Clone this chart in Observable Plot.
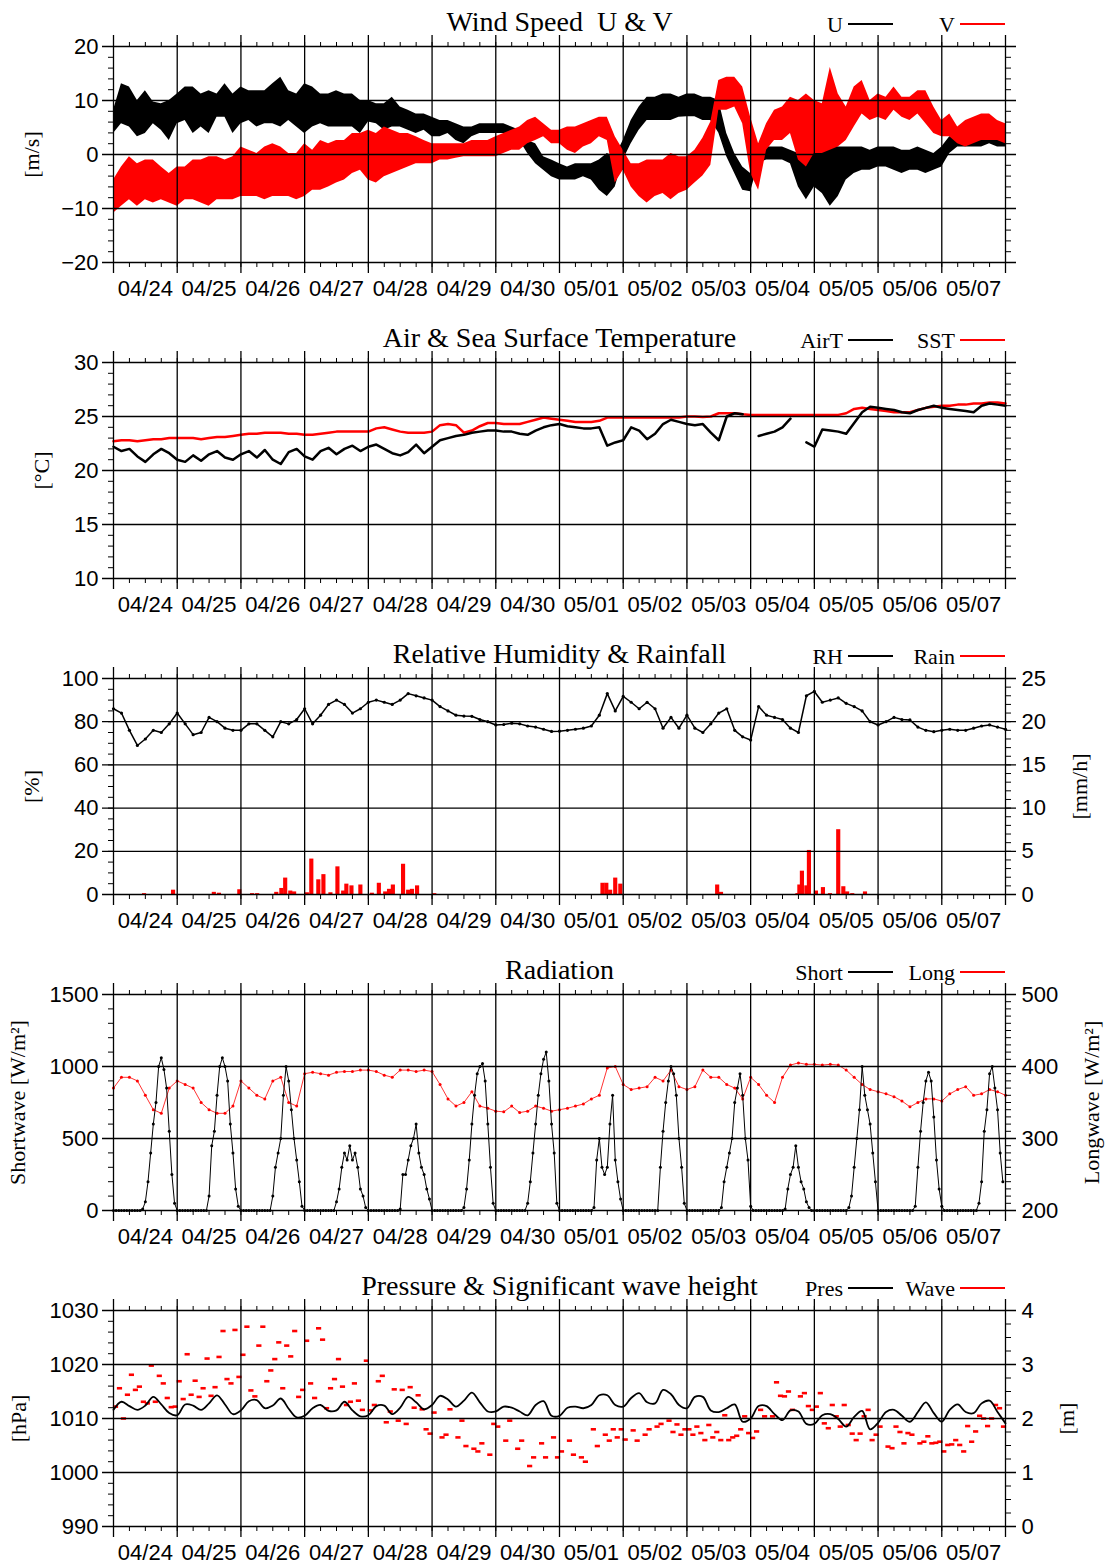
<!DOCTYPE html>
<html>
<head>
<meta charset="utf-8">
<script src="https://cdn.jsdelivr.net/npm/d3@7"></script>
<script src="https://cdn.jsdelivr.net/npm/@observablehq/plot@0.6"></script>
<style>
  body { margin: 0; background: #fff; }
  #charts svg { display: block; }
</style>
</head>
<body>
<div id="charts"></div>
<script>
// Buoy record, 04/24 00:00 – 05/08 00:00; time axis in days from 04/24 00:00.
const dayLabels = ["04/24","04/25","04/26","04/27","04/28","04/29","04/30","05/01","05/02","05/03","05/04","05/05","05/06","05/07"];

// Wind components (m/s), 3-hourly envelope of the 1-min record
const uLow = [
  3.9,5.7,5.1,3.3,3.9,5.7,4.5,2.6,  5.7,6.3,3.9,5.1,3.9,6.9,6.9,3.9,
  5.7,6.3,5.1,5.7,5.7,5.1,6.3,5.1,  3.9,5.1,5.7,5.1,5.1,5.1,5.1,3.9,
  6.0,5.7,4.5,5.1,5.1,4.5,3.9,4.5,  3.3,3.3,3.9,2.6,2.0,3.3,3.9,3.9,
  3.9,3.9,3.3,2.6,0.2,-1.7,-2.9,-4.1,  -4.7,-4.7,-4.7,-4.1,-4.7,-6.6,-7.8,-6.0,
  -1.0,2.0,4.5,6.3,6.3,6.3,6.3,6.9,  7.0,7.0,6.3,6.3,4.0,-0.4,-3.5,-6.6,
  -6.9,-1.7,-1.0,-1.0,-1.0,-1.7,-6.0,-8.4,  -6.0,-7.2,-9.6,-7.8,-4.7,-3.5,-2.9,-2.9,
  -2.3,-2.3,-2.9,-3.5,-2.9,-2.9,-3.5,-2.9,  -2.3,0.2,1.4,1.4,1.4,1.4,2.0,1.4,  1.4];
const uHigh = [
  8.2,13.1,12.5,10.0,11.8,9.7,9.4,10.0,  11.2,12.5,12.5,11.2,11.8,11.2,13.1,11.2,
  12.5,11.8,11.8,11.8,13.1,14.3,11.8,11.2,  13.1,12.5,11.2,11.2,11.8,11.2,11.2,10.0,
  10.0,9.4,9.4,10.6,8.8,8.2,7.5,7.5,  6.9,6.3,6.3,5.7,5.1,5.1,5.7,5.7,
  5.7,5.7,5.1,4.5,2.6,2.0,-0.4,-1.0,  -1.7,-2.3,-1.7,-1.7,-1.7,-1.0,0.2,-0.4,
  2.6,6.3,8.8,10.6,10.6,11.2,11.2,10.6,  11.2,11.2,10.6,10.6,10.0,3.9,0.2,-2.3,
  -3.5,2.0,1.4,1.4,1.4,0.8,0.2,1.4,  2.0,1.4,2.0,1.4,1.4,1.4,1.4,0.8,
  1.4,1.4,1.4,0.8,0.8,1.4,0.8,0.2,  1.4,3.3,3.3,2.6,3.3,3.9,3.9,3.3,  3.3];
const vLow = [
  -10.9,-9.6,-8.4,-9.6,-8.4,-9.0,-8.4,-9.0,  -9.6,-8.4,-8.4,-9.0,-9.6,-8.4,-8.4,-8.4,
  -7.8,-7.8,-7.8,-8.4,-7.8,-7.8,-7.8,-8.4,  -7.8,-6.6,-6.6,-6.0,-5.3,-4.7,-3.5,-2.9,
  -4.7,-5.3,-4.1,-3.5,-2.9,-2.3,-1.7,-1.7,  -1.7,-1.0,-1.0,-0.7,-0.4,-0.4,-0.4,-0.4,
  -0.4,0.2,0.8,0.8,2.0,2.6,3.3,2.0,  2.0,0.8,0.2,1.4,2.0,3.3,2.6,-5.3,
  -2.9,-6.0,-7.8,-9.0,-7.8,-7.2,-8.4,-7.2,  -6.6,-5.3,-4.0,-2.0,8.2,8.2,8.8,5.7,
  -3.5,-6.6,0.8,2.6,2.6,3.9,-1.0,-2.3,  0.2,0.2,0.8,1.4,2.6,5.1,7.5,6.3,
  6.9,6.3,8.2,6.9,6.3,7.5,5.7,3.9,  3.3,3.3,2.0,1.4,2.0,2.6,2.6,2.6,  2.0];
const vHigh = [
  -4.7,-2.3,-0.4,-1.7,-1.0,-1.0,-2.3,-3.5,  -2.3,-2.3,-1.0,-1.0,-0.4,-0.4,-1.0,-0.4,
  1.4,0.8,0.2,1.4,2.0,1.4,0.2,0.2,  2.0,0.8,2.6,2.0,2.6,2.6,3.9,3.9,
  4.5,3.9,5.1,4.5,3.9,3.9,3.3,2.6,  2.0,2.0,2.0,2.0,2.0,2.6,2.6,2.6,
  3.3,3.9,4.5,5.1,6.3,6.9,5.7,4.5,  4.5,5.1,5.1,5.7,6.3,6.9,6.9,3.3,
  0.8,-1.7,-1.7,-1.0,-1.0,-1.0,0.2,-0.4,  -0.4,0.8,3.0,6.0,13.7,14.3,14.3,12.5,
  6.9,2.0,5.7,8.2,8.8,10.6,10.0,11.2,  10.0,9.4,16.1,11.2,8.8,12.5,13.7,10.0,
  11.2,10.6,12.5,10.6,10.6,11.8,11.8,8.8,  6.3,7.5,5.1,6.3,6.9,7.5,7.5,6.3,  5.7];

// Air and sea surface temperature (°C), 3-hourly
const airT = [
  22.2,21.8,22.0,21.3,20.8,21.5,22.0,21.6,  21.0,20.8,21.4,20.9,21.5,21.8,21.2,21.0,
  21.5,21.8,21.2,21.9,21.0,20.6,21.7,22.0,  21.3,21.0,21.8,22.1,21.5,22.0,22.3,21.8,
  22.2,22.4,22.0,21.6,21.4,21.7,22.4,21.6,  22.2,22.8,23.0,23.2,23.3,23.5,23.6,23.7,
  23.7,23.6,23.6,23.4,23.3,23.7,24.0,24.2,  24.3,24.1,24.0,23.9,23.9,24.0,22.3,22.6,
  22.8,24.0,23.7,22.9,23.4,24.3,24.7,24.5,  24.3,24.2,24.3,23.5,22.8,25.0,25.3,25.2,
  null,23.2,23.4,23.6,24.0,24.8,null,22.6,  22.2,23.8,23.7,23.6,23.4,24.4,25.4,25.9,
  25.8,25.7,25.6,25.4,25.3,25.6,25.8,26.0,  25.8,25.7,25.6,25.5,25.4,26.0,26.2,26.1,  26.0];
const sst = [
  22.7,22.8,22.8,22.7,22.8,22.9,22.9,23.0,  23.0,23.0,23.0,22.9,23.0,23.1,23.1,23.2,
  23.3,23.4,23.4,23.5,23.5,23.5,23.4,23.4,  23.3,23.3,23.4,23.5,23.6,23.6,23.6,23.6,
  23.6,23.9,24.0,23.8,23.6,23.5,23.5,23.5,  23.6,24.2,24.3,24.2,23.5,23.7,24.1,24.4,
  24.4,24.3,24.3,24.3,24.5,24.7,24.9,24.8,  24.7,24.6,24.5,24.5,24.5,24.6,24.9,24.9,
  24.9,24.9,24.9,24.9,24.9,24.9,24.9,24.9,  25.0,25.0,24.95,25.0,25.3,25.3,25.3,25.2,
  25.15,25.15,25.15,25.15,25.15,25.15,25.15,25.15,  25.15,25.15,25.15,25.15,25.3,25.7,25.8,25.7,
  25.6,25.5,25.4,25.4,25.4,25.6,25.8,25.9,  26.0,26.0,26.1,26.1,26.2,26.2,26.3,26.3,  26.2];

// Relative humidity (%), 3-hourly
const rh = [
  86,84,76,69,72,76,75,79,  84,79,74,75,82,80,77,76,
  76,79,79,76,73,80,79,81,  86,79,83,88,90,88,84,86,
  89,90,89,88,90,93,92,91,  90,87,85,83,82.6,82.5,81,80,
  78.5,78.7,79.3,79,78,77.5,76.5,75.5,  75.6,76,76.5,77,78,83,93,85,
  91.7,89,86,89,86,77,82,77,  83,77,75,79,84,86,76,73,
  71.5,87,83,82,81,77,75,92,  94,89,90,91,88.5,87,85,80,
  78.5,80,82,81,80.8,77.5,76,75.4,  76,76.5,76,76,77,78,78.5,77.5,  76.5];

// Rainfall (mm/h): start of each rain interval (days) and its rate
const rainStart = [0.455,0.91,1.55,1.63,1.95,2.15,2.23,2.53,2.61,2.67,2.75,2.81,3.01,3.08,3.19,3.27,3.38,3.49,3.58,3.63,3.71,3.85,
  4.03,4.14,4.24,4.3,4.36,4.52,4.6,4.66,4.74,5.01,7.65,7.71,7.77,7.85,7.93,9.45,9.51,
  10.71,10.74,10.78,10.85,10.89,11.0,11.11,11.22,11.35,11.43,11.49,11.57,11.77];
const rainRate = [0.1,0.5,0.25,0.15,0.55,0.1,0.1,0.25,0.7,1.9,0.4,0.3,0.2,4.1,1.7,2.3,0.2,3.2,0.4,1.2,1.0,1.1,
  0.15,1.3,0.3,0.6,1.1,3.5,0.5,0.6,1.0,0.1,1.3,1.3,0.5,1.9,1.2,1.1,0.25,
  0.1,1.1,2.7,1.0,5.1,0.4,0.8,0.1,7.5,0.9,0.3,0.1,0.3];

// Shortwave (W/m²), hourly, one row per day (hours 00–23)
const shortwave = [
  0,0,0,0,0,0,0,0,0,0,0,10,60,200,400,600,750,1000,1060,980,850,550,250,50,
  0,0,0,0,0,0,0,0,0,0,0,0,100,450,550,800,1000,1060,1000,900,600,400,150,30,
  0,0,0,0,0,0,0,0,0,0,0,0,100,300,400,500,800,1000,900,700,500,350,200,30,
  0,0,0,0,0,0,0,0,0,0,0,0,60,150,300,400,350,450,350,400,300,150,100,20,
  0,0,0,0,0,0,0,0,0,0,0,0,10,250,250,350,450,500,600,400,300,250,150,80,
  0,0,0,0,0,0,0,0,0,0,0,0,20,150,350,600,800,950,1000,1020,900,600,300,50,
  0,0,0,0,0,0,0,0,0,0,0,0,50,200,400,600,800,950,1050,1100,900,600,400,50,
  0,0,0,0,0,0,0,0,0,0,0,0,0,20,350,500,300,250,300,600,800,350,200,80,
  0,0,0,0,0,0,0,0,0,0,0,0,0,0,300,550,750,900,1000,950,800,500,300,50,
  0,0,0,0,0,0,0,0,0,0,0,0,0,20,200,300,400,500,750,850,950,800,500,350,
  30,0,0,0,0,0,0,0,0,0,0,0,0,10,150,250,300,450,300,200,150,60,20,0,
  0,0,0,0,0,0,0,0,0,0,0,0,0,20,100,300,500,700,1000,800,700,600,400,200,
  0,0,0,0,0,0,0,0,0,0,0,0,0,0,30,300,550,750,900,960,900,650,350,150,
  30,0,0,0,0,0,0,0,0,0,0,0,0,0,50,200,550,700,950,1000,850,700,400,200];

// Longwave (W/m²), 3-hourly
const longwave = [
  370,385,385,380,360,340,335,370,  380,375,370,350,340,335,335,345,
  380,370,360,355,380,385,350,345,  390,392,390,388,392,393,393,395,
  395,393,388,385,395,395,393,395,  393,375,355,345,350,365,345,342,
  338,337,345,336,338,345,342,338,  340,342,345,348,355,360,398,400,
  375,368,370,372,385,380,395,372,  368,372,395,385,385,375,370,355,
  385,375,360,350,385,402,405,403,  403,402,403,402,395,385,375,368,
  365,362,358,352,344,350,355,355,  352,362,368,372,360,362,368,365,  360];

// Sea level pressure (hPa), 3-hourly
const pressure = [
  1011.6,1013.1,1012.3,1011.6,1012.4,1014.0,1012.6,1011.0,  1010.6,1012.6,1012.4,1011.6,1012.8,1014.3,1012.6,1010.8,
  1011.5,1013.2,1013.4,1011.9,1012.4,1013.7,1011.8,1010.2,  1010.5,1011.9,1012.5,1011.4,1011.5,1013.1,1011.5,1010.4,
  1010.6,1012.3,1012.4,1010.8,1012.0,1014.0,1013.0,1011.7,  1012.5,1014.2,1013.5,1012.2,1013.3,1014.8,1013.0,1011.3,
  1011.3,1012.2,1012.0,1011.3,1010.6,1012.5,1013.2,1010.5,  1010.5,1012.0,1012.2,1011.9,1012.5,1014.3,1014.3,1012.5,
  1012.2,1013.8,1014.7,1013.0,1012.8,1015.3,1014.5,1012.5,  1011.9,1014.0,1014.0,1011.5,1011.2,1011.9,1012.6,1009.4,
  1010.0,1012.3,1012.3,1010.8,1009.7,1011.5,1011.3,1009.0,  1009.0,1010.6,1010.8,1009.9,1008.5,1010.3,1011.4,1008.0,
  1009.2,1011.2,1011.6,1010.5,1009.4,1011.2,1013.0,1011.0,  1009.4,1011.6,1012.6,1011.2,1011.0,1012.8,1013.3,1011.2,  1009.1];

// Significant wave height (m), 90-minute slots, 16 per day
const waveHeight = [
  2.22,2.56,2.0,2.44,2.81,2.53,2.59,2.31,2.28,2.98,2.31,2.79,2.65,2.38,2.21,2.22,
  2.69,2.36,3.19,2.44,2.70,2.4,2.56,3.11,2.42,2.58,3.14,3.62,2.73,2.65,3.64,2.77,
  3.18,3.70,2.52,2.41,3.35,3.70,2.69,2.89,3.1,3.41,2.56,3.35,3.15,3.62,2.40,2.53,
  3.44,2.65,2.38,3.67,3.46,2.19,2.56,2.73,3.1,2.59,2.25,2.31,2.65,2.33,2.16,3.07,
  2.15,2.25,2.69,2.79,1.93,2.13,2.54,1.96,2.53,1.9,2.58,2.2,2.43,2.17,1.8,1.72,
  2.11,null,1.65,1.7,2.17,null,1.65,1.96,1.49,null,1.44,1.39,1.54,null,1.33,1.9,
  1.85,null,1.59,1.96,null,1.44,1.59,null,1.12,1.28,null,1.54,1.28,null,1.65,1.28,
  1.39,null,1.59,1.33,null,1.28,1.2,null,1.8,1.49,null,1.7,1.59,1.8,1.65,1.8,
  1.61,null,1.78,1.59,null,1.7,1.8,null,1.85,1.9,null,1.96,1.75,1.89,1.7,1.8,
  1.8,1.7,1.85,1.73,1.6,1.88,1.65,1.75,1.6,2.06,1.6,1.65,1.68,1.8,2.04,1.73,
  1.64,1.76,2.16,2.04,null,2.04,2.67,2.42,2.41,2.5,2.16,null,2.41,2.47,2.23,2.16,
  2.22,2.47,1.91,1.82,2.25,2.04,1.85,2.25,1.88,1.72,1.6,1.72,2.04,2.16,1.6,1.7,
  1.85,null,1.48,1.45,1.85,1.75,1.54,1.73,1.7,null,1.54,1.57,1.67,1.54,1.55,1.57,
  1.39,1.51,1.52,1.6,1.51,1.39,1.86,1.57,1.76,2.05,2.0,1.86,2.0,2.25,2.19,1.85];

// ---- tables built from the arrays ----
const sampled = (values, perDay) => values.map((v, i) => ({t: i / perDay, v}));
const wind = uLow.map((_, i) => ({t: i / 8, uLo: uLow[i], uHi: uHigh[i], vLo: vLow[i], vHi: vHigh[i]}));
const airSeries = sampled(airT, 8), sstSeries = sampled(sst, 8), rhSeries = sampled(rh, 8);
const rain = rainStart.map((t, i) => ({t, rate: rainRate[i]}));
const swSeries = sampled(shortwave, 24), lwSeries = sampled(longwave, 8);
const presSeries = sampled(pressure, 8);
const waveSeries = sampled(waveHeight, 16).map(d => ({t: d.t + 1 / 32, v: d.v})).filter(d => d.v != null);

// ---- layout ----
const W = 1105, ML = 113, MR = 100, MT = 46, FH = 216;
const serif = "'Liberation Serif', 'Times New Roman', serif";
const sans = "'Liberation Sans', Arial, sans-serif";
const RED = "#ff0000";
const signed = d => d < 0 ? "\u2212" + (-d) : String(d);
const dash = {draw(ctx) { ctx.moveTo(-2.6, -1.3); ctx.lineTo(2.6, -1.3); ctx.lineTo(2.6, 1.3); ctx.lineTo(-2.6, 1.3); ctx.closePath(); }};

function panel({height = 316, domain, major, minorL, minorR, fmt = signed, rightFmt, title, legend,
                yLabel, yLabelX, rLabel, rLabelX, marks}) {
  const chart = Plot.plot({
    width: W, height, marginLeft: ML, marginRight: MR, marginTop: MT, marginBottom: height - MT - FH,
    style: {fontFamily: sans, fontSize: "22px", color: "#000", background: "#fff", overflow: "visible"},
    x: {domain: [0, 14], axis: null},
    y: {domain, axis: null, label: null},
    marks: [
      ...marks,
      Plot.ruleY(major, {stroke: "#000", strokeWidth: 1.3, insetLeft: -11, insetRight: -11}),
      Plot.ruleX(d3.range(0, 15), {stroke: "#000", strokeWidth: 1.3, insetTop: -11, insetBottom: -11}),
      Plot.axisX({anchor: "top", ticks: d3.range(0, 14.01, 0.25), tickSize: 5, tickFormat: () => "", label: null}),
      Plot.axisX({anchor: "bottom", ticks: d3.range(0, 14.01, 0.25), tickSize: 5, tickFormat: () => "", label: null}),
      Plot.axisX({anchor: "bottom", ticks: d3.range(0.5, 14, 1), tickSize: 0, tickPadding: 18,
                  tickFormat: d => dayLabels[Math.floor(d)], label: null}),
      Plot.axisY({anchor: "left", ticks: minorL, tickSize: 5, tickFormat: () => "", label: null}),
      Plot.axisY({anchor: "right", ticks: minorR, tickSize: 5, tickFormat: () => "", label: null}),
      Plot.axisY({anchor: "left", ticks: major, tickSize: 0, tickPadding: 15, tickFormat: fmt, label: null}),
      rightFmt ? Plot.axisY({anchor: "right", ticks: major, tickSize: 0, tickPadding: 16, tickFormat: rightFmt, label: null}) : null,
      Plot.text([title], {frameAnchor: "top", dy: -16, lineAnchor: "bottom", fontFamily: serif, fontSize: 28}),
      Plot.text([yLabel], {frameAnchor: "left", textAnchor: "middle", dx: yLabelX - ML, rotate: -90, fontFamily: serif, fontSize: 22}),
      rLabel ? Plot.text([rLabel], {frameAnchor: "right", textAnchor: "middle", dx: rLabelX - (W - MR), rotate: -90, fontFamily: serif, fontSize: 22}) : null
    ]
  });
  // legend: label followed by a line sample, anchored to the frame's right edge
  const svg = d3.select(chart);
  const right = W - MR;
  [[legend[0], "#000", right - 112], [legend[1], RED, right]].forEach(([label, color, x2]) => {
    svg.append("line").attr("x1", x2 - 45).attr("x2", x2).attr("y1", MT - 22).attr("y2", MT - 22)
      .attr("stroke", color).attr("stroke-width", 2);
    svg.append("text").attr("x", x2 - 50).attr("y", MT - 14).attr("text-anchor", "end")
      .attr("font-family", serif).attr("font-size", 22).attr("fill", "#000").text(label);
  });
  return chart;
}

const charts = document.getElementById("charts");

charts.append(panel({
  domain: [-20, 20], major: d3.range(-20, 21, 10), minorL: d3.range(-20, 21, 2), minorR: d3.range(-20, 21, 2),
  title: "Wind Speed\u00a0 U & V", legend: ["U", "V"], yLabel: "[m/s]", yLabelX: 31,
  marks: [
    Plot.areaY(wind, {x: "t", y1: "uLo", y2: "uHi", fill: "#000"}),
    Plot.areaY(wind, {x: "t", y1: "vLo", y2: "vHi", fill: RED})
  ]
}));

charts.append(panel({
  domain: [10, 30], major: d3.range(10, 31, 5), minorL: d3.range(10, 31, 1), minorR: d3.range(10, 31, 1),
  title: "Air & Sea Surface Temperature", legend: ["AirT", "SST"], yLabel: "[°C]", yLabelX: 41,
  marks: [
    Plot.line(sstSeries, {x: "t", y: "v", stroke: RED, strokeWidth: 2.5}),
    Plot.line(airSeries, {x: "t", y: "v", stroke: "#000", strokeWidth: 2.5})
  ]
}));

charts.append(panel({
  domain: [0, 100], major: d3.range(0, 101, 20), minorL: d3.range(0, 101, 5), minorR: d3.range(0, 101, 4),
  rightFmt: d => String(d / 4),
  title: "Relative Humidity & Rainfall", legend: ["RH", "Rain"], yLabel: "[%]", yLabelX: 31,
  rLabel: "[mm/h]", rLabelX: 1079,
  marks: [
    Plot.rectY(rain, {x1: "t", x2: d => d.t + 0.065, y: d => d.rate * 4, fill: RED}),
    Plot.line(rhSeries, {x: "t", y: "v", stroke: "#000", strokeWidth: 1.5}),
    Plot.dot(rhSeries, {x: "t", y: "v", fill: "#000", r: 1.6})
  ]
}));

charts.append(panel({
  domain: [0, 1500], major: d3.range(0, 1501, 500), minorL: d3.range(0, 1501, 100), minorR: d3.range(0, 1501, 50),
  rightFmt: d => String(200 + d / 5),
  title: "Radiation", legend: ["Short", "Long"], yLabel: "Shortwave [W/m²]", yLabelX: 17,
  rLabel: "Longwave [W/m²]", rLabelX: 1091,
  marks: [
    Plot.line(lwSeries, {x: "t", y: d => (d.v - 200) * 5, stroke: RED, strokeWidth: 1, strokeOpacity: 0.8}),
    Plot.dot(lwSeries, {x: "t", y: d => (d.v - 200) * 5, fill: RED, r: 1.5}),
    Plot.line(swSeries, {x: "t", y: "v", stroke: "#000", strokeWidth: 1}),
    Plot.dot(swSeries, {x: "t", y: "v", fill: "#000", r: 1.5})
  ]
}));

charts.append(panel({
  height: 302,
  domain: [990, 1030], major: d3.range(990, 1031, 10), minorL: d3.range(990, 1031, 2), minorR: d3.range(990, 1031, 2.5),
  fmt: d => String(d), rightFmt: d => String((d - 990) / 10),
  title: "Pressure & Significant wave height", legend: ["Pres", "Wave"], yLabel: "[hPa]", yLabelX: 18,
  rLabel: "[m]", rLabelX: 1066,
  marks: [
    Plot.dot(waveSeries, {x: "t", y: d => 990 + d.v * 10, symbol: dash, fill: RED, r: 3}),
    Plot.line(presSeries, {x: "t", y: "v", stroke: "#000", strokeWidth: 1.8, curve: "catmull-rom"})
  ]
}));
</script>
</body>
</html>
